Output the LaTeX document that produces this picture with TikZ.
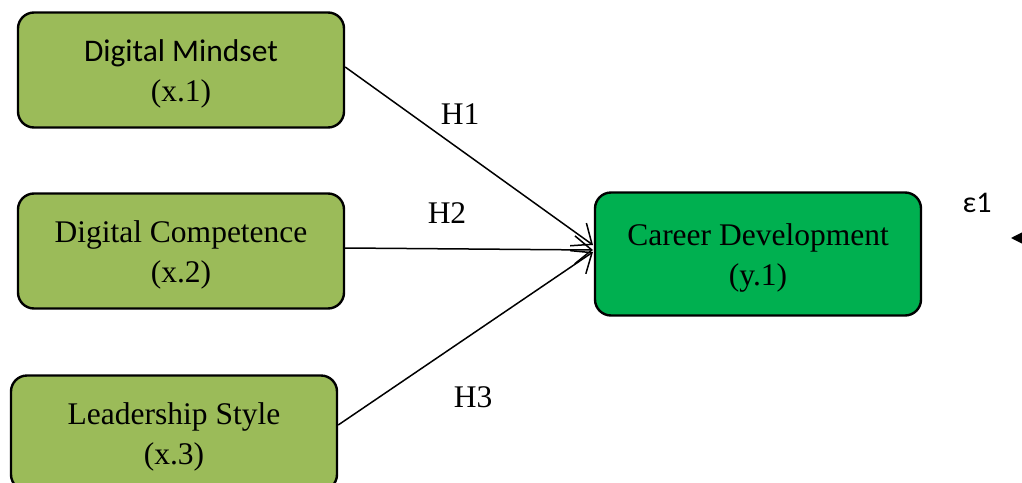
\documentclass[tikz,border=0pt]{standalone}
\usepackage{fontspec}
\setmainfont{Liberation Serif}
\newfontfamily\calib{Carlito}
\usetikzlibrary{arrows.meta}
\definecolor{olivegreen}{HTML}{9BBB59}
\definecolor{brightgreen}{HTML}{00B050}
\newcommand{\topstrut}{\rule{0pt}{29pt}}
\begin{document}
\begin{tikzpicture}[x=1pt,y=-1pt,
  box/.style={draw=black, line width=2.4pt, rounded corners=16pt,
    minimum width=326pt, minimum height=115pt, align=center,
    font=\fontsize{31.5}{40}\selectfont, inner sep=0pt},
  xbox/.style={box, fill=olivegreen},
  ybox/.style={box, fill=brightgreen, minimum height=123pt},
  path/.style={line width=1.5pt, -{Straight Barb[length=17pt,width=28pt,line width=1.5pt]}},
  hlab/.style={font=\fontsize{31.5}{38}\selectfont, inner sep=0pt}
]
\useasboundingbox (0,0) rectangle (1022,482);
\clip (0,0) rectangle (1022,482);
\node[xbox] (x1) at (181,70) {\topstrut{\calib Digital Mindset}\\(x.1)};
\node[xbox] (x2) at (181,251) {\topstrut Digital Competence\\(x.2)};
\node[xbox] (x3) at (174,433) {\topstrut Leadership Style\\(x.3)};
\node[ybox] (y1) at (758,254) {\topstrut Career Development\\(y.1)};
\coordinate (t1) at (593,245);
\coordinate (t2) at (593,250);
\coordinate (t3) at (593,252);
\draw[path] (x1.east |- 0,67) -- (t1);
\draw[path] (x2.east |- 0,248) -- (t2);
\draw[path] (x3.east |- 0,425) -- (t3);
\node[hlab] (h1) at (460,114) {H1};
\node[hlab] (h2) at (447,213) {H2};
\node[hlab] (h3) at (473,397) {H3};
\node[font=\calib\fontsize{30}{36}\selectfont, inner sep=0pt] (e1) at (977,203) {ε1};
\coordinate (es) at (1060,238);
\coordinate (ee) at (1011,238);
\draw[line width=1.5pt, -{Stealth[length=17pt,width=17pt,inset=0pt]}] (es) -- (ee);
\end{tikzpicture}
\end{document}
